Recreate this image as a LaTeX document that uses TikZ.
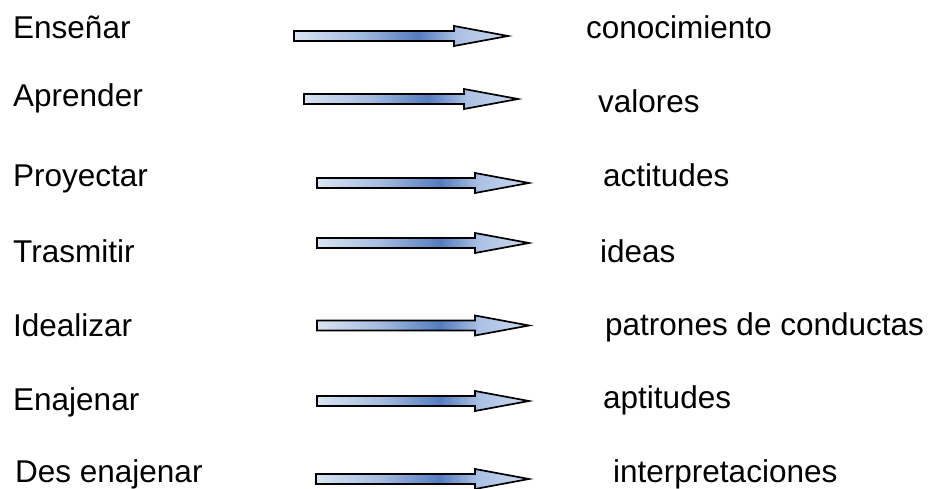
\documentclass[tikz,border=0pt]{standalone}
\usepackage{fontspec}
\setmainfont{Liberation Sans}
\definecolor{arrA}{RGB}{218,228,242}
\definecolor{arrB}{RGB}{165,188,224}
\definecolor{arrC}{RGB}{84,124,190}
\definecolor{arrD}{RGB}{170,192,228}
\definecolor{arrE}{RGB}{205,217,238}
\pgfdeclarehorizontalshading{arrshade}{100bp}{color(0bp)=(arrA); color(25bp)=(arrA); color(40bp)=(arrB); color(54bp)=(arrC); color(63bp)=(arrD); color(75bp)=(arrE); color(100bp)=(arrE)}
\tikzset{
  lbl/.style={anchor=base west,inner sep=0pt,font=\fontsize{31.5}{37}\selectfont},
  blockarrow/.style={draw=black,line width=1.7pt,line join=miter,
    shading=arrshade,shading angle=0}
}
\newcommand{\blockarr}[4]{% name, x0, yc, x1
  \coordinate (#1s) at (#2,#3);
  \coordinate (#1e) at (#4,#3);
  \shade[blockarrow] (#2,#3-5) -- (#4-54,#3-5) -- (#4-54,#3-10) -- (#1e)
    -- (#4-54,#3+10) -- (#4-54,#3+5) -- (#2,#3+5) -- cycle;
}
\begin{document}
\begin{tikzpicture}[x=1pt,y=-1pt]
\useasboundingbox[fill=white] (0,0) rectangle (932,489);
\node[lbl] (l1) at (13,39) {Enseñar};
\node[lbl] (l2) at (13,107) {Aprender};
\node[lbl] (l3) at (13,187) {Proyectar};
\node[lbl] (l4) at (13,262) {Trasmitir};
\node[lbl] (l5) at (13,336) {Idealizar};
\node[lbl] (l6) at (13,410) {Enajenar};
\node[lbl] (l7) at (15,482) {Des enajenar};
\node[lbl] (r1) at (586,39) {conocimiento};
\node[lbl] (r2) at (598,113) {valores};
\node[lbl] (r3) at (603,187) {actitudes};
\node[lbl] (r4) at (600,262) {ideas};
\node[lbl] (r5) at (605,335) {patrones de conductas};
\node[lbl] (r6) at (603,408) {aptitudes};
\node[lbl] (r7) at (613,482) {interpretaciones};
\blockarr{a1}{294}{36}{508}
\blockarr{a2}{304}{99}{518}
\blockarr{a3}{317}{183}{529}
\blockarr{a4}{317}{243}{529}
\blockarr{a5}{317}{325.5}{529}
\blockarr{a6}{317}{401}{529}
\blockarr{a7}{316}{479}{529}
\end{tikzpicture}
\end{document}
